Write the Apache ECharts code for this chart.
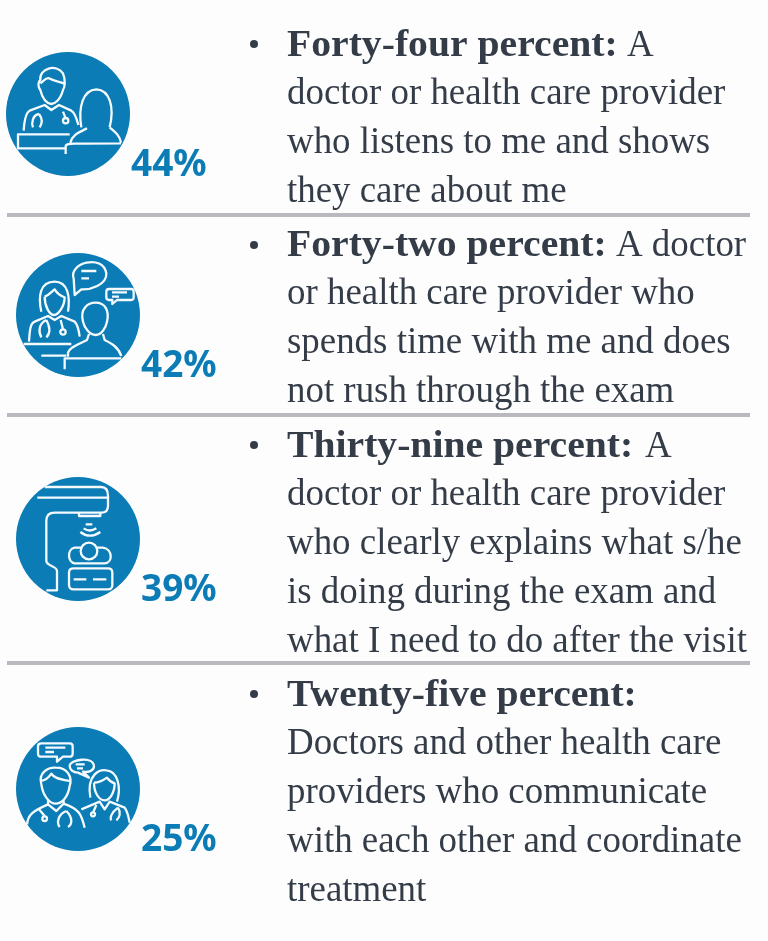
<!DOCTYPE html>
<html><head><meta charset="utf-8">
<style>html,body{margin:0;padding:0;background:#fdfdfd}#c{width:768px;height:941px}</style>
<script src="https://cdn.jsdelivr.net/npm/echarts@6/dist/echarts.min.js"></script>
</head><body><div id="c"></div>
<script>
var percents = [44, 42, 39, 25];
var headings = ['Forty-four percent:', 'Forty-two percent:', 'Thirty-nine percent:', 'Twenty-five percent:'];
var headingTails = ['A', 'A doctor', 'A', ''];
var bodyLines = [
  ['doctor or health care provider', 'who listens to me and shows', 'they care about me'],
  ['or health care provider who', 'spends time with me and does', 'not rush through the exam'],
  ['doctor or health care provider', 'who clearly explains what s/he', 'is doing during the exam and', 'what I need to do after the visit'],
  ['Doctors and other health care', 'providers who communicate', 'with each other and coordinate', 'treatment']
];

/* layout */
var BLUE = '#0b7cb5', INK = '#343c48';
var circleX = [68, 78, 78, 78], circleY = [114, 315, 539, 789];
var firstBaseline = [55, 255, 456, 705];
var bulletY = [44, 245, 445, 694];
var dividerY = [215, 415, 663];
var tailX = [627, 616, 645, 0];
var LINE = 48.7, TEXT_X = 287, SIZE = 36.9;

function ring(x, y, r) { return 'M' + (x - r) + ' ' + y + 'a' + r + ' ' + r + ' 0 1 0 ' + (2 * r) + ' 0a' + r + ' ' + r + ' 0 1 0 ' + (-2 * r) + ' 0Z'; }
/* icon outlines, in units of 1/3 px around an icon centre */
var iconCentre = [[205, 222], [235, 225], [235, 224], [235, 224]];
var icons = [
  'M122 120C118 85 170 70 190 100C198 120 196 140 190 150C182 180 165 192 155 192C140 190 128 175 122 150C114 140 115 125 122 120Z' +
  'M122 130C135 120 140 112 148 115C165 125 180 125 192 130' +
  'M72 272C74 240 78 218 90 212L135 195L155 210L178 195L215 212C228 220 232 240 236 255' +
  'M118 222C98 225 95 250 100 262M118 222C128 235 128 250 120 262M190 215L198 235' + ring(198, 242, 8) +
  'M210 283H55V325H197' +
  'M245 262C235 200 250 150 290 148C330 150 345 200 330 262' +
  'M212 308C220 280 245 275 262 265M330 262C345 275 360 285 364 308M198 342V318C200 310 210 310 364 310',

  'M125 215C115 170 120 125 165 125C205 125 212 170 205 215' +
  'M135 170C150 165 160 150 165 148C175 165 190 170 195 172C195 200 175 225 163 225C150 225 135 200 135 170' +
  'M88 305C90 270 92 250 105 245L145 228L165 240L185 228L225 245C235 255 238 275 240 290' +
  'M140 240C118 250 115 275 125 292M140 240C152 262 152 280 140 292M183 240L190 268' + ring(190, 276, 8) +
  'M72 312H215M125 347H200' +
  'M222 115C205 70 310 40 320 100C322 135 270 150 245 148L225 165ZM245 93H290M245 115H268' +
  'M330 147H395Q402 147 402 155V172Q402 180 395 180H352L338 192V180H328Q320 180 320 172V155Q320 147 328 147ZM337 157H382M337 170H358' +
  'M250 245C240 205 265 188 288 188C315 188 330 210 322 245C318 265 305 285 288 285C270 285 255 265 250 245Z' +
  'M205 350V338C210 320 240 312 262 300L268 282M310 282L315 300C335 310 355 320 365 348M195 388V355H365',

  'M135 68H305C320 68 325 80 325 95V125C325 138 318 145 305 145H165C145 145 140 155 140 170V290C140 305 172 305 172 320V378H140' +
  'M113 100H325M238 148V155H302V148M258 180H278M252 192Q270 205 290 192M242 203Q270 225 302 203' + ring(268, 260, 25) +
  'M245 250H225C200 255 205 295 225 297H315C340 295 340 255 310 250H292' +
  'M222 312H325Q338 312 338 325V362Q338 375 325 375H222Q208 375 208 362V325Q208 312 222 312Z' +
  'M222 345H260M280 345H320',

  'M125 87H210Q219 87 219 96V118Q219 127 210 127H190L172 142V127H125Q115 127 115 118V96Q115 87 125 87ZM137 100H197M137 113H163' +
  'M210 155C210 135 280 125 283 155C283 170 265 175 250 172L268 190L235 175C220 175 210 165 210 155ZM228 150H255M232 162H250' +
  'M125 210C115 175 145 158 170 160C200 160 220 185 210 215C205 250 185 268 168 268C150 268 130 245 125 210Z' +
  'M125 200C145 195 150 185 155 178C165 195 190 195 210 200' +
  'M145 258V270L170 290L192 268V258M82 330C85 300 100 290 145 270M192 268C240 285 245 300 255 340' +
  'M118 285L135 305' + ring(135, 313, 7) + 'M200 290C175 300 170 325 180 338M200 290C220 310 218 330 205 338' +
  'M272 250C260 180 300 165 320 168C355 170 365 220 352 262' +
  'M283 205C300 205 315 195 322 190C330 200 338 205 345 207C345 235 330 258 315 258C298 258 283 235 283 205' +
  'M245 285L300 262L315 285L330 262L375 280C385 295 387 310 390 325' +
  'M290 272L280 295' + ring(280, 300, 6) + 'M355 280C335 295 330 310 335 318M355 280C365 295 360 310 350 318'
];

var circleData = percents.map(function (p, i) { return [circleX[i], circleY[i], p]; });
var texts = [];
percents.forEach(function (p, i) {
  var b = firstBaseline[i];
  var toY = function (base) { return base - SIZE * 0.27 + 1; };
  texts.push({
    type: 'text', x: TEXT_X, y: toY(b), silent: true, scaleX: 1.075,
    style: { text: headings[i], font: 'bold ' + SIZE + 'px "Liberation Serif"', fill: INK, verticalAlign: 'middle', align: 'left' }
  });
  if (headingTails[i]) {
    texts.push({
      type: 'text', x: tailX[i], y: toY(b), silent: true,
      style: { text: headingTails[i], font: SIZE + 'px "Liberation Serif"', fill: INK, verticalAlign: 'middle', align: 'left' }
    });
  }
  bodyLines[i].forEach(function (t, j) {
    texts.push({
      type: 'text', x: TEXT_X, y: toY(b + LINE * (j + 1)), silent: true,
      style: { text: t, font: SIZE + 'px "Liberation Serif"', fill: INK, verticalAlign: 'middle', align: 'left' }
    });
  });
});

var series = [{
  type: 'scatter', symbol: 'circle', symbolSize: 124, silent: true, animation: false,
  data: circleData, itemStyle: { color: BLUE, opacity: 1 },
  label: {
    show: true, position: 'right', distance: 0, offset: [1, 51.5],
    formatter: function (o) { return o.value[2] + '%'; },
    color: BLUE, fontFamily: 'Noto Sans', fontWeight: 'bold', fontSize: 37
  }
}, {
  type: 'custom', silent: true, animation: false, clip: false, z: 5,
  data: circleData,
  renderItem: function (params, api) {
    var i = params.dataIndex, c = iconCentre[i], pt = api.coord([api.value(0), api.value(1)]);
    var R = 200, a = (c[0] - R) + ' ' + (c[1] - R), b = (c[0] + R) + ' ' + (c[1] + R);
    return {
      type: 'path', x: pt[0], y: pt[1],
      shape: {
        pathData: 'M' + a + 'L' + a + 'M' + b + 'L' + b + icons[i],
        x: -R / 3, y: -R / 3, width: 2 * R / 3, height: 2 * R / 3, layout: 'cover'
      },
      style: { fill: 'none', stroke: '#f4fafd', lineWidth: 2.3, lineJoin: 'round', lineCap: 'butt' }
    };
  }
}, {
  type: 'scatter', symbol: 'circle', symbolSize: 8, silent: true, animation: false,
  data: bulletY.map(function (y) { return [254, y]; }), itemStyle: { color: INK, opacity: 1 }
}];
dividerY.forEach(function (y) {
  series.push({
    type: 'line', silent: true, animation: false, showSymbol: false, symbol: 'none',
    data: [[7, y], [750, y]], lineStyle: { color: '#b9b9bf', width: 4 }
  });
});

var chart = echarts.init(document.getElementById('c'), null, { renderer: 'canvas' });
chart.setOption({
  backgroundColor: '#fdfdfd', animation: false,
  grid: { left: 0, right: 0, top: 0, bottom: 0 },
  xAxis: { type: 'value', min: 0, max: 768, show: false },
  yAxis: { type: 'value', min: 0, max: 941, inverse: true, show: false },
  series: series,
  graphic: { elements: texts }
});
</script></body></html>
